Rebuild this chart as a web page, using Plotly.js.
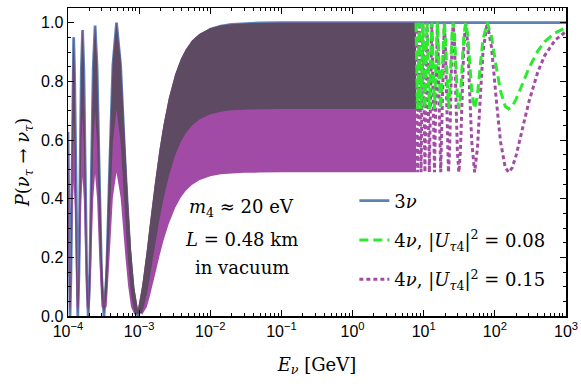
<!DOCTYPE html>
<html><head><meta charset="utf-8">
<script src="https://cdn.plot.ly/plotly-3.0.1.min.js"></script>
<style>html,body{margin:0;padding:0;background:#fff}#chart{width:581px;height:386px}</style>
</head><body><div id="chart"></div>
<script>
// Energies (GeV) where the low-energy curves / oscillation bands were read
const energyLow = [1.000e-4,1.012e-4,1.039e-4,1.068e-4,1.099e-4,1.131e-4,1.165e-4,1.202e-4,1.240e-4,1.282e-4,
  1.326e-4,1.373e-4,1.424e-4,1.479e-4,1.538e-4,1.602e-4,1.672e-4,1.748e-4,1.831e-4,1.9225e-4,
  2.024e-4,2.136e-4,2.262e-4,2.403e-4,2.563e-4,2.746e-4,2.958e-4,3.204e-4,3.495e-4,3.845e-4,
  4.272e-4,4.806e-4,5.493e-4,6.408e-4,7.0e-4,7.69e-4,8.6e-4,9.6125e-4,1.1e-3,1.282e-3,
  1.4e-3,1.65e-3,1.9225e-3,2.2e-3,2.6e-3,3.2e-3,3.845e-3,4.5e-3,5.5e-3,7e-3,
  1e-2,1.4e-2,2e-2,3e-2,5e-2,0.1,7.8];
// 3-flavour survival probability
const energy3nu = [1.000e-4,1.012e-4,1.039e-4,1.068e-4,1.099e-4,1.131e-4,1.165e-4,1.202e-4,1.240e-4,1.282e-4,
  1.326e-4,1.373e-4,1.424e-4,1.479e-4,1.538e-4,1.602e-4,1.672e-4,1.748e-4,1.831e-4,1.9225e-4,
  2.024e-4,2.136e-4,2.262e-4,2.403e-4,2.563e-4,2.746e-4,2.958e-4,3.204e-4,3.495e-4,3.845e-4,
  4.272e-4,4.806e-4,5.493e-4,6.408e-4,7.0e-4,7.69e-4,8.6e-4,9.6125e-4,1.1e-3,1.282e-3,
  1.4e-3,1.65e-3,1.9225e-3,2.2e-3,2.6e-3,3.2e-3,3.845e-3,4.5e-3,5.5e-3,7e-3,
  1e-2,1.4e-2,2e-2,3e-2,5e-2,0.1,7.8,1000];
const p3nu = [0.627,0.465,0.137,0.0,0.14,0.475,0.81,0.95,0.81,0.48,
  0.14,0.0,0.143,0.49,0.833,0.975,0.833,0.49,0.145,0.0,
  0.145,0.495,0.845,0.99,0.845,0.495,0.145,0.0,0.146,0.5,
  0.854,1.0,0.854,0.5,0.306,0.146,0.034,0.0,0.039,0.146,
  0.224,0.371,0.5,0.598,0.699,0.793,0.854,0.892,0.927,0.954,
  0.977,0.988,0.994,0.997,0.999,1.0,1.0,1.0];
// upper edge of the rapidly oscillating 4-flavour band
const upper4nu = [0.677,0.532,0.216,0.0225,0.219,0.541,0.837,0.958,0.837,0.546,
  0.219,0.0225,0.222,0.555,0.857,0.979,0.857,0.555,0.224,0.0225,
  0.224,0.560,0.867,0.991,0.867,0.560,0.224,0.0225,0.225,0.564,
  0.875,1.0,0.875,0.564,0.385,0.225,0.094,0.0225,0.101,0.225,
  0.305,0.446,0.564,0.652,0.741,0.823,0.875,0.908,0.938,0.961,
  0.981,0.990,0.995,0.997,0.999,1.0,1.0];
// lower edge of the band, |U_tau4|^2 = 0.15
const lower015 = [0.274,0.185,0.027,0.0225,0.028,0.190,0.378,0.460,0.378,0.193,
  0.028,0.0225,0.029,0.198,0.392,0.475,0.392,0.198,0.030,0.0225,
  0.030,0.201,0.399,0.484,0.399,0.201,0.030,0.0225,0.031,0.203,
  0.404,0.49,0.404,0.203,0.103,0.031,0.004,0.0225,0.004,0.031,
  0.064,0.135,0.203,0.257,0.314,0.368,0.404,0.426,0.447,0.463,
  0.476,0.483,0.486,0.488,0.489,0.49,0.49];
// lower edge of the band, |U_tau4|^2 = 0.08
const lower008 = [0.421,0.300,0.068,0.0064,0.070,0.307,0.560,0.667,0.560,0.311,
  0.070,0.0064,0.072,0.318,0.577,0.686,0.577,0.318,0.073,0.0064,
  0.073,0.322,0.586,0.698,0.586,0.322,0.073,0.0064,0.074,0.326,
  0.593,0.706,0.593,0.326,0.184,0.074,0.008,0.0064,0.010,0.074,
  0.126,0.231,0.326,0.399,0.475,0.547,0.593,0.622,0.649,0.670,
  0.688,0.696,0.701,0.703,0.705,0.706,0.706];
// resolved high-energy oscillations
const energyHigh = [7.80,8.00,8.21,8.43,8.66,8.91,9.17,9.45,9.75,10.06,
  10.40,10.76,11.14,11.55,12.00,12.48,13.00,13.56,14.18,14.85,
  15.60,16.42,17.33,18.35,19.49,20.12,20.79,21.51,22.28,23.10,
  23.99,24.95,25.99,27.12,28.35,29.70,31.19,32.83,34.66,36.69,
  38.99,41.5,44.6,47.3,52.0,57.0,62.4,68.0,78.0,90,
  104,120,140,156,175,200,250,300,400,500,700,1000];
const p015 = [1.0,0.745,0.49,0.745,1.0,0.745,0.49,0.745,1.0,0.745,
  0.49,0.745,1.0,0.745,0.49,0.745,1.0,0.745,0.49,0.745,
  1.0,0.745,0.49,0.745,1.0,0.925,0.745,0.564,0.49,0.564,
  0.745,0.925,1.0,0.925,0.745,0.564,0.49,0.564,0.745,0.925,
  1.0,0.931,0.745,0.594,0.49,0.574,0.745,0.899,1.0,0.915,
  0.745,0.595,0.506,0.49,0.505,0.549,0.649,0.729,0.831,0.887,0.940,0.970];
const p008 = [1.0,0.853,0.706,0.853,1.0,0.853,0.706,0.853,1.0,0.853,
  0.706,0.853,1.0,0.853,0.706,0.853,1.0,0.853,0.706,0.853,
  1.0,0.853,0.706,0.853,1.0,0.957,0.853,0.749,0.706,0.749,
  0.853,0.957,1.0,0.957,0.853,0.749,0.706,0.749,0.853,0.957,
  1.0,0.960,0.853,0.766,0.706,0.754,0.853,0.942,1.0,0.951,
  0.853,0.767,0.715,0.706,0.715,0.740,0.797,0.844,0.903,0.935,0.965,0.983];

const xTickVals = [1e-4,1e-3,1e-2,1e-1,1,10,100,1000];
const xTickText = ['10<sup>\u22124</sup>','10<sup>\u22123</sup>','10<sup>\u22122</sup>','10<sup>\u22121</sup>',
  '10<sup>0</sup>','10<sup>1</sup>','10<sup>2</sup>','10<sup>3</sup>'];
const seriesNames = ['3<i>\u03bd</i>',
  '4<i>\u03bd</i>, |<i>U</i><sub><i>\u03c4</i>4</sub>|<sup>2</sup> = 0.08',
  '4<i>\u03bd</i>, |<i>U</i><sub><i>\u03c4</i>4</sub>|<sup>2</sup> = 0.15'];

const minorX = [];
for (let k = -4; k < 3; k++) for (let m = 2; m <= 9; m++) minorX.push(m * Math.pow(10, k));

const colBlue = '#5E81B5', colGreen = '#2EEA2E', colPurple = '#A04DA3';
const colBandPurple = '#A24BA6', colBandDark = '#5E4A63';

function band(lower) {
  return {
    x: energyLow.concat(energyLow.slice().reverse()),
    y: upper4nu.concat(lower.slice().reverse())
  };
}
const bP = band(lower015), bG = band(lower008);

const traces = [
  {x: energy3nu, y: p3nu, mode: 'lines', name: seriesNames[0], legendrank: 1, legendgroup: 'a',
   line: {color: colBlue, width: 2.8}},
  {x: bP.x, y: bP.y, xaxis: 'x2', yaxis: 'y2', mode: 'none', fill: 'toself', fillcolor: colBandPurple, showlegend: false, hoverinfo: 'skip'},
  {x: bG.x, y: bG.y, xaxis: 'x2', yaxis: 'y2', mode: 'none', fill: 'toself', fillcolor: colBandDark, showlegend: false, hoverinfo: 'skip'},
  {x: energyHigh, y: p015, xaxis: 'x2', yaxis: 'y2', mode: 'lines', name: seriesNames[2], legendrank: 3, legendgroup: 'c',
   line: {color: colPurple, width: 3, dash: '4px,3px'}},
  {x: energyHigh, y: p008, xaxis: 'x2', yaxis: 'y2', mode: 'lines', name: seriesNames[1], legendrank: 2, legendgroup: 'b',
   line: {color: colGreen, width: 3, dash: '9px,5px'}}
];

const serif = 'DejaVu Serif';
const tickFont = {family: 'Liberation Sans', size: 16, color: '#000'};
const layout = {
  width: 581, height: 386,
  margin: {l: 68, r: 15, t: 8, b: 70},
  paper_bgcolor: '#fff', plot_bgcolor: '#fff',
  showlegend: true,
  legend: {x: 0.575, y: 0.434, xanchor: 'left', yanchor: 'top', bgcolor: 'rgba(0,0,0,0)',
    font: {family: serif, size: 18, color: '#000'}, tracegroupgap: 13, itemwidth: 30},
  xaxis: {type: 'log', range: [-4, 3], tickmode: 'array', tickvals: xTickVals, ticktext: xTickText,
    ticks: 'inside', ticklen: 6, tickwidth: 1, tickcolor: '#000',
    showline: true, linecolor: '#000', linewidth: 1.5, mirror: 'ticks',
    showgrid: false, zeroline: false, layer: 'above traces',
    tickfont: tickFont,
    minor: {tickmode: 'array', tickvals: minorX, ticks: 'inside', ticklen: 3, tickcolor: '#000', tickwidth: 1, showgrid: false},
    title: {text: '<i>E</i><sub><i>\u03bd</i></sub> [GeV]', font: {family: serif, size: 18, color: '#000'}, standoff: 19}},
  yaxis: {range: [0, 1.05], tick0: 0, dtick: 0.2, tickformat: '.1f',
    ticks: 'inside', ticklen: 6, tickwidth: 1, tickcolor: '#000',
    showline: true, linecolor: '#000', linewidth: 1.5, mirror: 'ticks',
    showgrid: false, zeroline: false, layer: 'above traces',
    tickfont: tickFont,
    minor: {dtick: 0.05, ticks: 'inside', ticklen: 3, tickcolor: '#000', tickwidth: 1, showgrid: false},
    title: {text: '<i>P</i>(<i>\u03bd</i><sub><i>\u03c4</i></sub> \u2192 <i>\u03bd</i><sub><i>\u03c4</i></sub>)',
      font: {family: serif, size: 18, color: '#000'}, standoff: 6}},
  xaxis2: {type: 'log', range: [-4, 3], overlaying: 'x', visible: false, showgrid: false, zeroline: false},
  yaxis2: {range: [0, 1.05], overlaying: 'y', visible: false, showgrid: false, zeroline: false},
  annotations: [
    {xref: 'paper', yref: 'paper', x: 0.349, y: 0.351, showarrow: false, xanchor: 'center', yanchor: 'middle',
     text: '<i>m</i><sub>4</sub> \u2248 20 eV', font: {family: serif, size: 18, color: '#000'}},
    {xref: 'paper', yref: 'paper', x: 0.349, y: 0.25, showarrow: false, xanchor: 'center', yanchor: 'middle',
     text: '<i>L</i> = 0.48 km', font: {family: serif, size: 18, color: '#000'}},
    {xref: 'paper', yref: 'paper', x: 0.349, y: 0.156, showarrow: false, xanchor: 'center', yanchor: 'middle',
     text: 'in vacuum', font: {family: serif, size: 18, color: '#000'}}
  ]
};
Plotly.newPlot('chart', traces, layout, {staticPlot: true, displayModeBar: false});
</script></body></html>
